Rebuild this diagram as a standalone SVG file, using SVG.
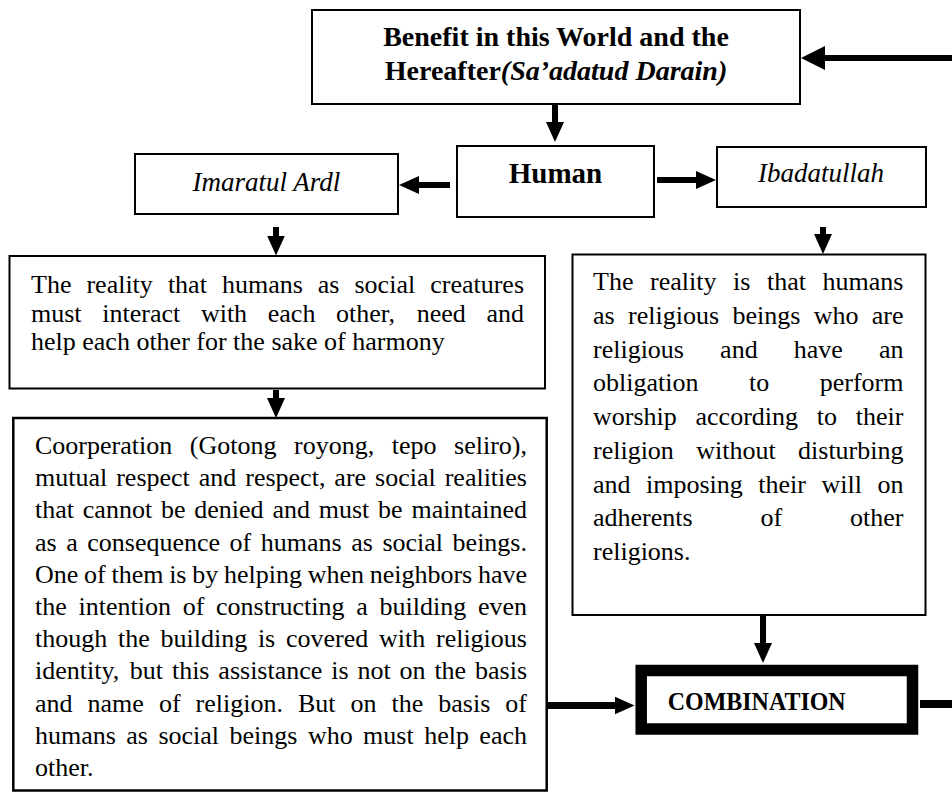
<svg xmlns="http://www.w3.org/2000/svg" width="952" height="792" viewBox="0 0 952 792">
<style>
.box{fill:#fff;stroke:#000;stroke-width:2}
.heavy{fill:#fff;stroke:#000;stroke-width:11.5}
.serif{font-family:"Liberation Serif","Times New Roman",serif;fill:#000}
.body{font-size:26px}
.b{font-weight:bold}
.i{font-style:italic}
.con{stroke:#000;stroke-width:6;fill:none}
</style>
<defs>
<marker id="ah" markerUnits="userSpaceOnUse" markerWidth="20" markerHeight="20" viewBox="0 0 20 20" refX="2" refY="10" orient="auto"><path d="M0,1 L20,10 L0,19 z" fill="#000"/></marker>
<marker id="ahL" markerUnits="userSpaceOnUse" markerWidth="24" markerHeight="26" viewBox="0 0 24 26" refX="2" refY="13" orient="auto"><path d="M0,1 L24,13 L0,25 z" fill="#000"/></marker>
</defs>
<rect width="952" height="792" fill="#fff"/>

<g id="connectors">
<line class="con" x1="952" y1="58" x2="823" y2="58" marker-end="url(#ahL)"/>
<line class="con" x1="555" y1="104" x2="555" y2="124" marker-end="url(#ah)"/>
<line class="con" x1="450" y1="185" x2="417" y2="185" marker-end="url(#ah)"/>
<line class="con" x1="657" y1="180" x2="698" y2="180" marker-end="url(#ah)"/>
<line class="con" x1="276" y1="227" x2="276" y2="237.5" marker-end="url(#ah)"/>
<line class="con" x1="823" y1="227" x2="823" y2="236" marker-end="url(#ah)"/>
<line class="con" x1="276" y1="390" x2="276" y2="400" marker-end="url(#ah)"/>
<line class="con" x1="763" y1="615" x2="763" y2="645" marker-end="url(#ah)"/>
<line class="con" style="stroke-width:7" x1="547" y1="705.5" x2="616.5" y2="705.5" marker-end="url(#ah)"/>
<line class="con" style="stroke-width:8" x1="920" y1="704" x2="952" y2="704"/>
</g>

<g id="benefit">
<rect class="box" x="312" y="10" width="488" height="94"/>
<text class="serif b" font-size="28" x="556" y="46" text-anchor="middle">Benefit in this World and the</text>
<text class="serif b" font-size="28" x="556" y="80" text-anchor="middle">Hereafter<tspan class="i">(Sa’adatud Darain)</tspan></text>
</g>

<g id="human">
<rect class="box" x="457" y="146" width="197" height="71"/>
<text class="serif b" font-size="29" x="555.5" y="183" text-anchor="middle">Human</text>
</g>

<g id="imaratul">
<rect class="box" x="135" y="154" width="263" height="60"/>
<text class="serif i" font-size="27" x="266.5" y="191" text-anchor="middle">Imaratul Ardl</text>
</g>

<g id="ibadatullah">
<rect class="box" x="717" y="147" width="209" height="60"/>
<text class="serif i" font-size="27" x="821" y="182" text-anchor="middle">Ibadatullah</text>
</g>

<g id="social-reality">
<rect class="box" x="9.5" y="256" width="535.5" height="132.5"/>
<text class="serif body" y="293"><tspan x="31">The</tspan><tspan x="86.45">reality</tspan><tspan x="167.9">that</tspan><tspan x="221.92">humans</tspan><tspan x="317.83">as</tspan><tspan x="354.51">social</tspan><tspan x="430.19">creatures</tspan></text>
<text class="serif body" y="321.5"><tspan x="31">must</tspan><tspan x="102.24">interact</tspan><tspan x="200.88">with</tspan><tspan x="267.78">each</tspan><tspan x="336.08">other,</tspan><tspan x="416.68">need</tspan><tspan x="486.44">and</tspan></text>
<text class="serif body" x="31" y="350">help each other for the sake of harmony</text>
</g>

<g id="religious-reality">
<rect class="box" x="572.5" y="254.5" width="353" height="360.5"/>
<text class="serif body" y="290"><tspan x="593">The</tspan><tspan x="650.03">reality</tspan><tspan x="733.06">is</tspan><tspan x="767">that</tspan><tspan x="822.6">humans</tspan></text>
<text class="serif body" y="323.75"><tspan x="593">as</tspan><tspan x="628.02">religious</tspan><tspan x="732.38">beings</tspan><tspan x="813.63">who</tspan><tspan x="871.76">are</tspan></text>
<text class="serif body" y="357.5"><tspan x="593">religious</tspan><tspan x="720.11">and</tspan><tspan x="793.76">have</tspan><tspan x="878.96">an</tspan></text>
<text class="serif body" y="391.25"><tspan x="593">obligation</tspan><tspan x="748.99">to</tspan><tspan x="819.75">perform</tspan></text>
<text class="serif body" y="425"><tspan x="593">worship</tspan><tspan x="695.54">according</tspan><tspan x="816.83">to</tspan><tspan x="855.83">their</tspan></text>
<text class="serif body" y="458.75"><tspan x="593">religion</tspan><tspan x="696.24">without</tspan><tspan x="798.05">disturbing</tspan></text>
<text class="serif body" y="492.5"><tspan x="593">and</tspan><tspan x="646.05">imposing</tspan><tspan x="758.36">their</tspan><tspan x="821.53">will</tspan><tspan x="877.5">on</tspan></text>
<text class="serif body" y="526.25"><tspan x="593">adherents</tspan><tspan x="760.52">of</tspan><tspan x="850.07">other</tspan></text>
<text class="serif body" x="593" y="560">religions.</text>
</g>

<g id="cooperation">
<rect class="box" style="stroke-width:2.5" x="13.3" y="418" width="533.4" height="372.5"/>
<text class="serif body" y="454"><tspan x="35">Coorperation</tspan><tspan x="189.8">(Gotong</tspan><tspan x="294">royong,</tspan><tspan x="391.7">tepo</tspan><tspan x="454.1">seliro),</tspan></text>
<text class="serif body" y="486.2"><tspan x="35">mutual</tspan><tspan x="116.19">respect</tspan><tspan x="198.78">and</tspan><tspan x="245.28">respect,</tspan><tspan x="334.37">are</tspan><tspan x="375.08">social</tspan><tspan x="444.7">realities</tspan></text>
<text class="serif body" y="518.4"><tspan x="35">that</tspan><tspan x="82.8">cannot</tspan><tspan x="160.92">be</tspan><tspan x="194.26">denied</tspan><tspan x="272.38">and</tspan><tspan x="318.72">must</tspan><tspan x="378.09">be</tspan><tspan x="411.43">maintained</tspan></text>
<text class="serif body" y="550.6"><tspan x="35">as</tspan><tspan x="66.19">a</tspan><tspan x="87.26">consequence</tspan><tspan x="229.62">of</tspan><tspan x="260.81">humans</tspan><tspan x="351.23">as</tspan><tspan x="382.42">social</tspan><tspan x="452.61">beings.</tspan></text>
<text class="serif body" y="582.8"><tspan x="35">One</tspan><tspan x="84.04">of</tspan><tspan x="111.42">them</tspan><tspan x="169.14">is</tspan><tspan x="192.2">by</tspan><tspan x="223.92">helping</tspan><tspan x="307.64">when</tspan><tspan x="369.68">neighbors</tspan><tspan x="477.94">have</tspan></text>
<text class="serif body" y="615"><tspan x="35">the</tspan><tspan x="78.48">intention</tspan><tspan x="182.65">of</tspan><tspan x="216.02">constructing</tspan><tspan x="356.27">a</tspan><tspan x="379.52">building</tspan><tspan x="477.91">even</tspan></text>
<text class="serif body" y="647.2"><tspan x="35">though</tspan><tspan x="117.97">the</tspan><tspan x="160.48">building</tspan><tspan x="257.9">is</tspan><tspan x="285.98">covered</tspan><tspan x="379.01">with</tspan><tspan x="435.98">religious</tspan></text>
<text class="serif body" y="679.4"><tspan x="35">identity,</tspan><tspan x="129.83">but</tspan><tspan x="171.93">this</tspan><tspan x="218.37">assistance</tspan><tspan x="331.21">is</tspan><tspan x="357.42">not</tspan><tspan x="399.52">on</tspan><tspan x="434.39">the</tspan><tspan x="475.03">basis</tspan></text>
<text class="serif body" y="711.6"><tspan x="35">and</tspan><tspan x="87.55">name</tspan><tspan x="158.88">of</tspan><tspan x="195.55">religion.</tspan><tspan x="297.95">But</tspan><tspan x="350.53">on</tspan><tspan x="391.54">the</tspan><tspan x="438.32">basis</tspan><tspan x="505.33">of</tspan></text>
<text class="serif body" y="743.8"><tspan x="35">humans</tspan><tspan x="126.34">as</tspan><tspan x="158.45">social</tspan><tspan x="229.56">beings</tspan><tspan x="307.9">who</tspan><tspan x="363.12">must</tspan><tspan x="424.14">help</tspan><tspan x="479.36">each</tspan></text>
<text class="serif body" x="35" y="776">other.</text>
</g>

<g id="combination">
<rect class="heavy" x="641.2" y="670.5" width="271.3" height="58.5"/>
<text class="serif b" font-size="25" x="667.7" y="710" textLength="178" lengthAdjust="spacingAndGlyphs">COMBINATION</text>
</g>
</svg>
